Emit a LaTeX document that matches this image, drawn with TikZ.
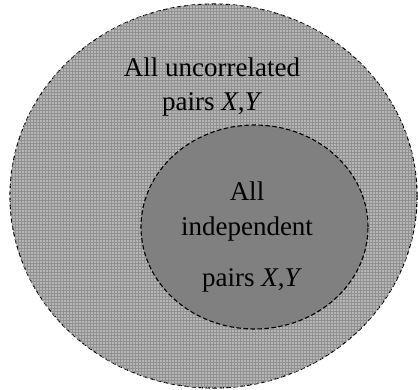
\documentclass[tikz,border=0pt]{standalone}
\usepackage{fontspec}
\setmainfont{Liberation Serif}
\usepackage{tikz}
\usetikzlibrary{patterns,shapes.geometric}
\definecolor{VenOuter}{RGB}{182,182,182}
\definecolor{VenGrid}{RGB}{145,145,145}
\definecolor{VenInner}{RGB}{128,128,128}
\tikzset{
  ven/set/.style={
    ellipse,
    draw=black,
    line width=1.1pt,
    dash pattern=on 4.5pt off 2.5pt,
    inner sep=0pt
  },
  ven/outer/.style={
    ven/set,
    fill=VenOuter,
    postaction={pattern=grid,pattern color=VenGrid},
    minimum width=407pt,
    minimum height=384pt
  },
  ven/inner/.style={
    ven/set,
    fill=VenInner,
    minimum width=227pt,
    minimum height=204pt
  },
  ven/label/.style={font=\fontsize{27}{34}\selectfont, text=black, anchor=base, inner sep=0pt}
}
\begin{document}
\begin{tikzpicture}[x=1pt,y=-1pt]
  \useasboundingbox (0,0) rectangle (418,389);
  \node[ven/outer] (uncorr) at (213.5,196) {};
  \node[ven/inner] (indep) at (254.5,227) {};
  % outer set labels
  \node[ven/label] (uncorr1) at (212,76) {All uncorrelated};
  \node[ven/label] (uncorr2) at (212,110) {pairs \textit{X},\textit{Y}};
  % inner set labels
  \node[ven/label] (indep1) at (247,200) {All};
  \node[ven/label] (indep2) at (247,235) {independent};
  \node[ven/label] (indep3) at (252,286) {pairs \textit{X},\textit{Y}};
\end{tikzpicture}
\end{document}
